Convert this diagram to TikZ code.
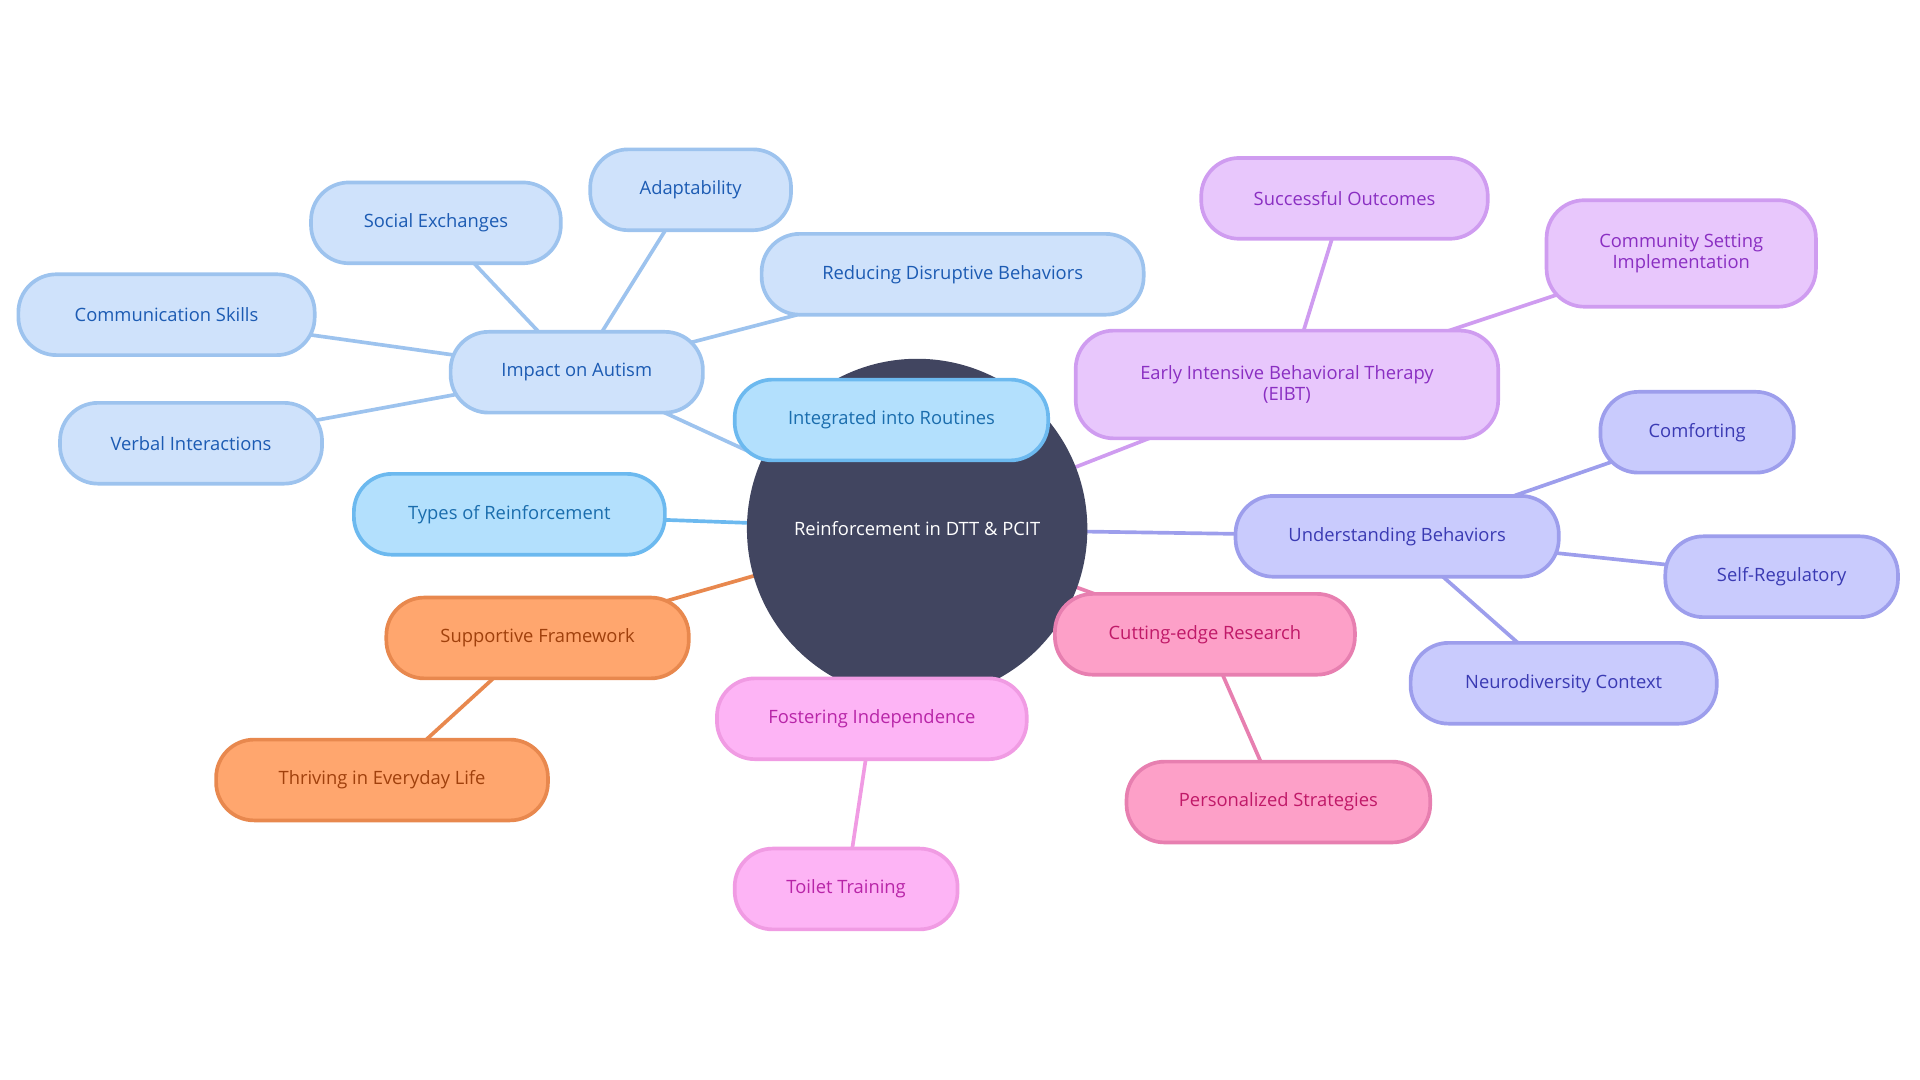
\documentclass[tikz,border=0pt]{standalone}
\usepackage{fontspec}
\setmainfont{Open Sans}
\begin{document}
\begin{tikzpicture}[x=1pt,y=-1pt,
  base/.style={rounded corners=31pt,line width=3pt,minimum height=66pt,font=\fontsize{15}{16}\selectfont,align=center,inner sep=0pt},
  lb/.style={base,fill=lbF,draw=lbD,text=lbT},
  sb/.style={base,fill=sbF,draw=sbD,text=sbT},
  orn/.style={base,fill=orF,draw=orD,text=orT},
  mg/.style={base,fill=mgF,draw=mgD,text=mgT},
  pk/.style={base,fill=pkF,draw=pkD,text=pkT},
  pu/.style={base,fill=puF,draw=puD,text=puT},
  indg/.style={base,fill=inF,draw=inD,text=inT},
  ed/.style={line width=3pt}]
\definecolor{lbF}{HTML}{CFE2FB}\definecolor{lbD}{HTML}{9DC3EE}\definecolor{lbT}{HTML}{1C5BB3}
\definecolor{sbF}{HTML}{B3E0FD}\definecolor{sbD}{HTML}{6CB9EF}\definecolor{sbT}{HTML}{1A6DAD}
\definecolor{orF}{HTML}{FFA66E}\definecolor{orD}{HTML}{E8884E}\definecolor{orT}{HTML}{A0400C}
\definecolor{mgF}{HTML}{FDB4F5}\definecolor{mgD}{HTML}{F09BE3}\definecolor{mgT}{HTML}{B825A8}
\definecolor{pkF}{HTML}{FDA0C8}\definecolor{pkD}{HTML}{E77FB0}\definecolor{pkT}{HTML}{C01968}
\definecolor{puF}{HTML}{E8C7FC}\definecolor{puD}{HTML}{CF9CF0}\definecolor{puT}{HTML}{8A2FC2}
\definecolor{inF}{HTML}{C9CBFD}\definecolor{inD}{HTML}{9D9EEC}\definecolor{inT}{HTML}{3A3AB3}
\definecolor{cen}{HTML}{414560}
\useasboundingbox (0,0) rectangle (1568,882);
\coordinate (c) at (749,432);
\coordinate (pImp) at (471,304);\coordinate (pCom) at (136,257);\coordinate (pVer) at (156,362);
\coordinate (pSoc) at (356,182);\coordinate (pAda) at (564,155);\coordinate (pRed) at (778,224);
\coordinate (pInt) at (728,343);\coordinate (pTyp) at (416,420);\coordinate (pSup) at (439,521);
\coordinate (pThr) at (312,637);\coordinate (pFos) at (712,587);\coordinate (pToi) at (691,726);
\coordinate (pCut) at (984,518);\coordinate (pPer) at (1044,655);\coordinate (pUnd) at (1141,438);
\coordinate (pCmf) at (1386,353);\coordinate (pSel) at (1455,471);\coordinate (pNeu) at (1277,558);
\coordinate (pEib) at (1051,314);\coordinate (pSuc) at (1098,162);\coordinate (pCmu) at (1373,207);
\draw[ed,lbD] (c)--(pImp) (pImp)--(pCom) (pImp)--(pVer) (pImp)--(pSoc) (pImp)--(pAda) (pImp)--(pRed);
\draw[ed,sbD] (c)--(pInt) (c)--(pTyp);
\draw[ed,orD] (c)--(pSup) (pSup)--(pThr);
\draw[ed,mgD] (c)--(pFos) (pFos)--(pToi);
\draw[ed,pkD] (c)--(pCut) (pCut)--(pPer);
\draw[ed,inD] (c)--(pUnd) (pUnd)--(pCmf) (pUnd)--(pSel) (pUnd)--(pNeu);
\draw[ed,puD] (c)--(pEib) (pEib)--(pSuc) (pEib)--(pCmu);
\node[circle,fill=cen,minimum size=278pt,text=white,font=\fontsize{15}{16}\selectfont] (ctr) at (c) {Reinforcement in DTT \& PCIT};
\node[lb,minimum width=206pt] (imp) at (pImp) {Impact on Autism};
\node[lb,minimum width=242pt] (com) at (pCom) {Communication Skills};
\node[lb,minimum width=214pt] (ver) at (pVer) {Verbal Interactions};
\node[lb,minimum width=204pt] (soc) at (pSoc) {Social Exchanges};
\node[lb,minimum width=164pt] (ada) at (pAda) {Adaptability};
\node[lb,minimum width=312pt] (red) at (pRed) {Reducing Disruptive Behaviors};
\node[sb,minimum width=256pt] (int) at (pInt) {Integrated into Routines};
\node[sb,minimum width=254pt] (typ) at (pTyp) {Types of Reinforcement};
\node[orn,minimum width=247pt] (sup) at (pSup) {Supportive Framework};
\node[orn,minimum width=271pt] (thr) at (pThr) {Thriving in Everyday Life};
\node[mg,minimum width=253pt] (fos) at (pFos) {Fostering Independence};
\node[mg,minimum width=182pt] (toi) at (pToi) {Toilet Training};
\node[pk,minimum width=245pt] (cut) at (pCut) {Cutting-edge Research};
\node[pk,minimum width=248pt] (per) at (pPer) {Personalized Strategies};
\node[indg,minimum width=264pt] (und) at (pUnd) {Understanding Behaviors};
\node[indg,minimum width=158pt] (cmf) at (pCmf) {Comforting};
\node[indg,minimum width=190pt] (sel) at (pSel) {Self-Regulatory};
\node[indg,minimum width=250pt] (neu) at (pNeu) {Neurodiversity Context};
\node[pu,minimum width=345pt,minimum height=88pt,font=\fontsize{15}{17}\selectfont] (eib) at (pEib) {Early Intensive Behavioral Therapy\\(EIBT)};
\node[pu,minimum width=234pt] (suc) at (pSuc) {Successful Outcomes};
\node[pu,minimum width=220pt,minimum height=87pt,font=\fontsize{15}{17}\selectfont] (cmu) at (pCmu) {Community Setting\\Implementation};
\end{tikzpicture}
\end{document}
